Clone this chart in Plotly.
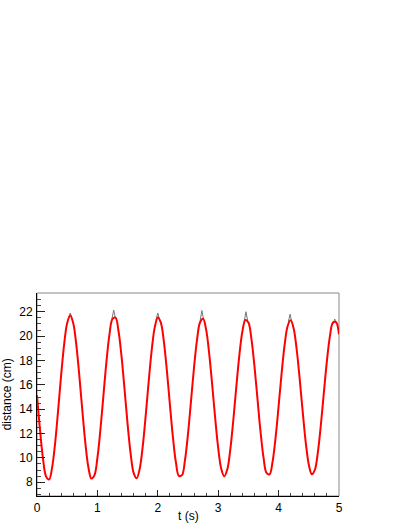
import plotly.graph_objects as go

fit_t = [round(0.05 * i, 2) for i in range(101)]
fit_d = [
    15.14, 12.29, 9.92, 8.48, 8.22, 9.20, 11.22, 13.92, 16.81, 19.35,
    21.08, 21.69, 21.06, 19.33, 16.79, 13.93, 11.25, 9.25, 8.30, 8.56,
    9.99, 12.33, 15.14, 17.91, 20.14, 21.41, 21.51, 20.40, 18.31, 15.60,
    12.77, 10.36, 8.77, 8.33, 9.09, 10.92, 13.49, 16.32, 18.89, 20.74,
    21.53, 21.10, 19.57, 17.19, 14.40, 11.72, 9.63, 8.52, 8.58, 9.81,
    11.97, 14.68, 17.43, 19.72, 21.14, 21.42, 20.53, 18.61, 16.03, 13.26,
    10.80, 9.11, 8.48, 9.04, 10.68, 13.09, 15.84, 18.42, 20.37, 21.32,
    21.11, 19.77, 17.55, 14.86, 12.19, 10.04, 8.77, 8.65, 9.67, 11.66,
    14.24, 16.95, 19.29, 20.83, 21.30, 20.60, 18.88, 16.44, 13.73, 11.24,
    9.44, 8.65, 9.01, 10.46, 12.72, 15.39, 17.97, 20.00, 21.12, 21.15,
    20.15,
]

# Measured data points visible above the fit near each maximum
data_t = [0.52, 0.55, 0.58, None,
          1.24, 1.27, 1.30, None,
          1.97, 2.00, 2.03, None,
          2.70, 2.73, 2.76, None,
          3.43, 3.46, 3.49, None,
          4.16, 4.19, 4.22, None,
          4.90, 4.93, 4.96]
data_d = [21.45, 21.90, 21.50, None,
          21.40, 22.13, 21.45, None,
          21.30, 21.90, 21.30, None,
          21.25, 22.10, 21.30, None,
          21.20, 22.00, 21.20, None,
          21.15, 21.80, 21.10, None,
          21.00, 21.40, 21.00]

x_range = [0, 5]
y_range = [6.87, 23.54]
x_title = "t (s)"
y_title = "distance (cm)"

FONT = "Liberation Sans, Arial, Helvetica, sans-serif"

fig = go.Figure()
fig.add_trace(go.Scatter(x=data_t, y=data_d, mode="lines",
                         line=dict(color="#777777", width=1),
                         hoverinfo="skip", showlegend=False, connectgaps=False))
fig.add_trace(go.Scatter(x=fit_t, y=fit_d, mode="lines",
                         line=dict(color="#ff0000", width=2, shape="spline", smoothing=1),
                         showlegend=False))

fig.update_layout(
    width=407, height=527,
    margin=dict(l=37, r=68, t=293, b=28, pad=0),
    paper_bgcolor="white", plot_bgcolor="white",
    font=dict(family=FONT, size=12, color="black"),
    showlegend=False,
)
fig.update_xaxes(
    range=x_range, dtick=1, tick0=0,
    ticks="inside", ticklen=6, tickwidth=1, tickcolor="#222",
    minor=dict(dtick=0.2, tick0=0, ticks="inside", ticklen=3, tickcolor="#444", tickwidth=1),
    showgrid=False, zeroline=False,
    showline=True, linecolor="black", linewidth=1,
    tickfont=dict(size=12), ticklabelstandoff=1,
)
fig.update_yaxes(
    range=y_range, dtick=2, tick0=0,
    ticks="inside", ticklen=8, tickwidth=1, tickcolor="#222",
    minor=dict(dtick=0.5, tick0=0, ticks="inside", ticklen=4, tickcolor="#444", tickwidth=1),
    showgrid=False, zeroline=False,
    showline=True, linecolor="black", linewidth=1,
    tickfont=dict(size=12), ticklabelstandoff=1,
)
# frame (top and right edges)
fig.add_shape(type="rect", xref="paper", yref="paper", x0=0, y0=0, x1=1, y1=1,
              line=dict(color="#888888", width=1), layer="below")
fig.add_annotation(text=x_title, xref="paper", yref="paper", x=0.5, y=-0.0985,
                   xanchor="center", yanchor="middle", showarrow=False,
                   font=dict(size=12))
fig.add_annotation(text=y_title, xref="paper", yref="paper", x=-0.1, y=0.5,
                   xanchor="center", yanchor="middle", showarrow=False, textangle=-90,
                   font=dict(size=12))

fig.write_html("out.html", config={"displayModeBar": False},
               post_script="document.body.style.margin='0';document.body.style.padding='0';document.body.style.overflow='hidden';")
